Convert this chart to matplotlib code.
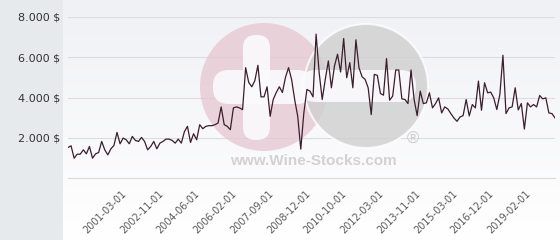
import numpy as np
import matplotlib
matplotlib.use("Agg")
import matplotlib.pyplot as plt
from matplotlib.patches import Circle, FancyBboxPatch
from matplotlib.transforms import Affine2D, ScaledTranslation

# price per auction (USD)
prices = [
    1517, 1600, 983, 1183, 1183, 1400, 1200, 1567, 983, 1200,
    1267, 1817, 1400, 1150, 1450, 1617, 2267, 1700, 1983, 1900,
    1700, 2067, 1867, 1817, 2017, 1817, 1400, 1567, 1817, 1450,
    1733, 1817, 1933, 1933, 1867, 1733, 1933, 1733, 2300, 2567,
    1767, 2200, 1900, 2650, 2450, 2567, 2600, 2600, 2650, 2733,
    3533, 2650, 2567, 2400, 3483, 3533, 3483, 3400, 5483, 4750,
    4533, 4833, 5600, 4033, 4033, 4533, 3067, 3900, 4250, 4533,
    4250, 5000, 5483, 4900, 3900, 3067, 1433, 3233, 4400, 4317,
    4033, 7150, 5233, 3900, 4900, 5817, 4483, 5567, 6150, 5267,
    6933, 4983, 5733, 4483, 6867, 5483, 5033, 4900, 4483, 3150,
    5150, 5100, 4200, 4117, 5933, 3867, 4067, 5367, 5367, 3933,
    3900, 3700, 5367, 3900, 3100, 4317, 3700, 3733, 4233, 3483,
    3700, 3983, 3233, 3533, 3433, 3200, 2983, 2817, 3033, 3100,
    3900, 3083, 3650, 3483, 4817, 3367, 4733, 4233, 4267, 3983,
    3400, 4150, 6100, 3200, 3483, 3533, 4483, 3383, 3700, 2433,
    3733, 3533, 3650, 3533, 4100, 3933, 3983, 3233, 3200, 2983,
]
tick_labels = ["2001-03-01", "2002-11-01", "2004-06-01", "2006-02-01",
               "2007-09-01", "2008-12-01", "2010-10-01", "2012-03-01",
               "2013-11-01", "2015-03-01", "2016-12-01", "2019-02-01"]
first_tick = 19
tick_step = 12
y_ticks = [2000, 4000, 6000, 8000]

W, H = 560, 240
fig = plt.figure(figsize=(W / 100, H / 100), dpi=100, facecolor="#e6eaed")

# light panel with a soft vertical gradient
bg = fig.add_axes([63 / W, 0, 1 - 63 / W, 1])
grad = np.linspace(0, 1, 256).reshape(-1, 1)
bg.imshow(grad, aspect="auto", cmap=matplotlib.colors.LinearSegmentedColormap.from_list(
    "bg", ["#f0f1f5", "#ffffff"]), extent=(0, 1, 0, 1), origin="upper")
bg.axis("off")

ax = fig.add_axes([68 / W, (H - 178) / H, 487 / W, 161 / H])
ax.patch.set_alpha(0)
x = np.arange(len(prices))
ax.plot(x, prices, color="#3b1e2c", lw=0.9, zorder=3)

ax.set_xlim(0, len(prices) - 1)
ax.set_ylim(0, 8000)
ax.set_yticks(y_ticks)
ax.set_yticklabels(["{:,} $".format(v).replace(",", ".") for v in y_ticks],
                   fontsize=8, color="#333333")
ticks = [first_tick + tick_step * i for i in range(len(tick_labels))]
ax.set_xticks(ticks)
ax.set_xticklabels(tick_labels, rotation=45, ha="right", va="top",
                   rotation_mode="anchor", fontsize=7, color="#5a5a5a")
ax.tick_params(axis="y", length=0, pad=5.5)
ax.tick_params(axis="x", length=0, pad=10)
shift = ScaledTranslation(-5 / 100, 3 / 100, fig.dpi_scale_trans)
for lab in ax.get_xticklabels():
    lab.set_transform(lab.get_transform() + shift)
ax.grid(axis="y", color="#dcdcdc", lw=0.8)
ax.set_axisbelow(True)
for s in ["left", "right", "top"]:
    ax.spines[s].set_visible(False)
ax.spines["bottom"].set_color("#dcdcdc")
ax.spines["bottom"].set_linewidth(0.8)

# watermark, drawn in pixel coordinates
px = Affine2D().scale(1 / W, -1 / H).translate(0, 1) + fig.transFigure
wm = dict(transform=px, clip_on=False, zorder=1)
ax.add_patch(Circle((264, 87), 64, fc="#e6c6d0", alpha=0.75, ec="none", **wm))
ax.add_patch(FancyBboxPatch((243, 35), 27, 105, boxstyle="round,pad=0,rounding_size=13",
                            fc="#fbfbfd", ec="none", alpha=0.9, **wm))
ax.add_patch(FancyBboxPatch((213, 70), 100, 34, boxstyle="round,pad=0,rounding_size=16",
                            fc="#fbfbfd", ec="none", alpha=0.9, **wm))
ax.add_patch(Circle((366, 86), 62, fc="#cfcfcf", alpha=0.8, ec="white", lw=1.5, **wm))
ax.add_patch(FancyBboxPatch((300, 70), 116, 32, boxstyle="round,pad=0,rounding_size=16",
                            fc="#fbfbfd", ec="none", alpha=0.9, **wm))
ax.text(313, 161, "www.Wine-Stocks.com", fontsize=11, fontweight="bold",
        family="Liberation Sans", color="#d2d2d2", ha="center", va="center", **wm)
ax.text(413, 139, "®", fontsize=12, family="Liberation Sans", color="#cccccc",
        ha="center", va="center", **wm)

fig.savefig("out.png", dpi=100, facecolor=fig.get_facecolor())
